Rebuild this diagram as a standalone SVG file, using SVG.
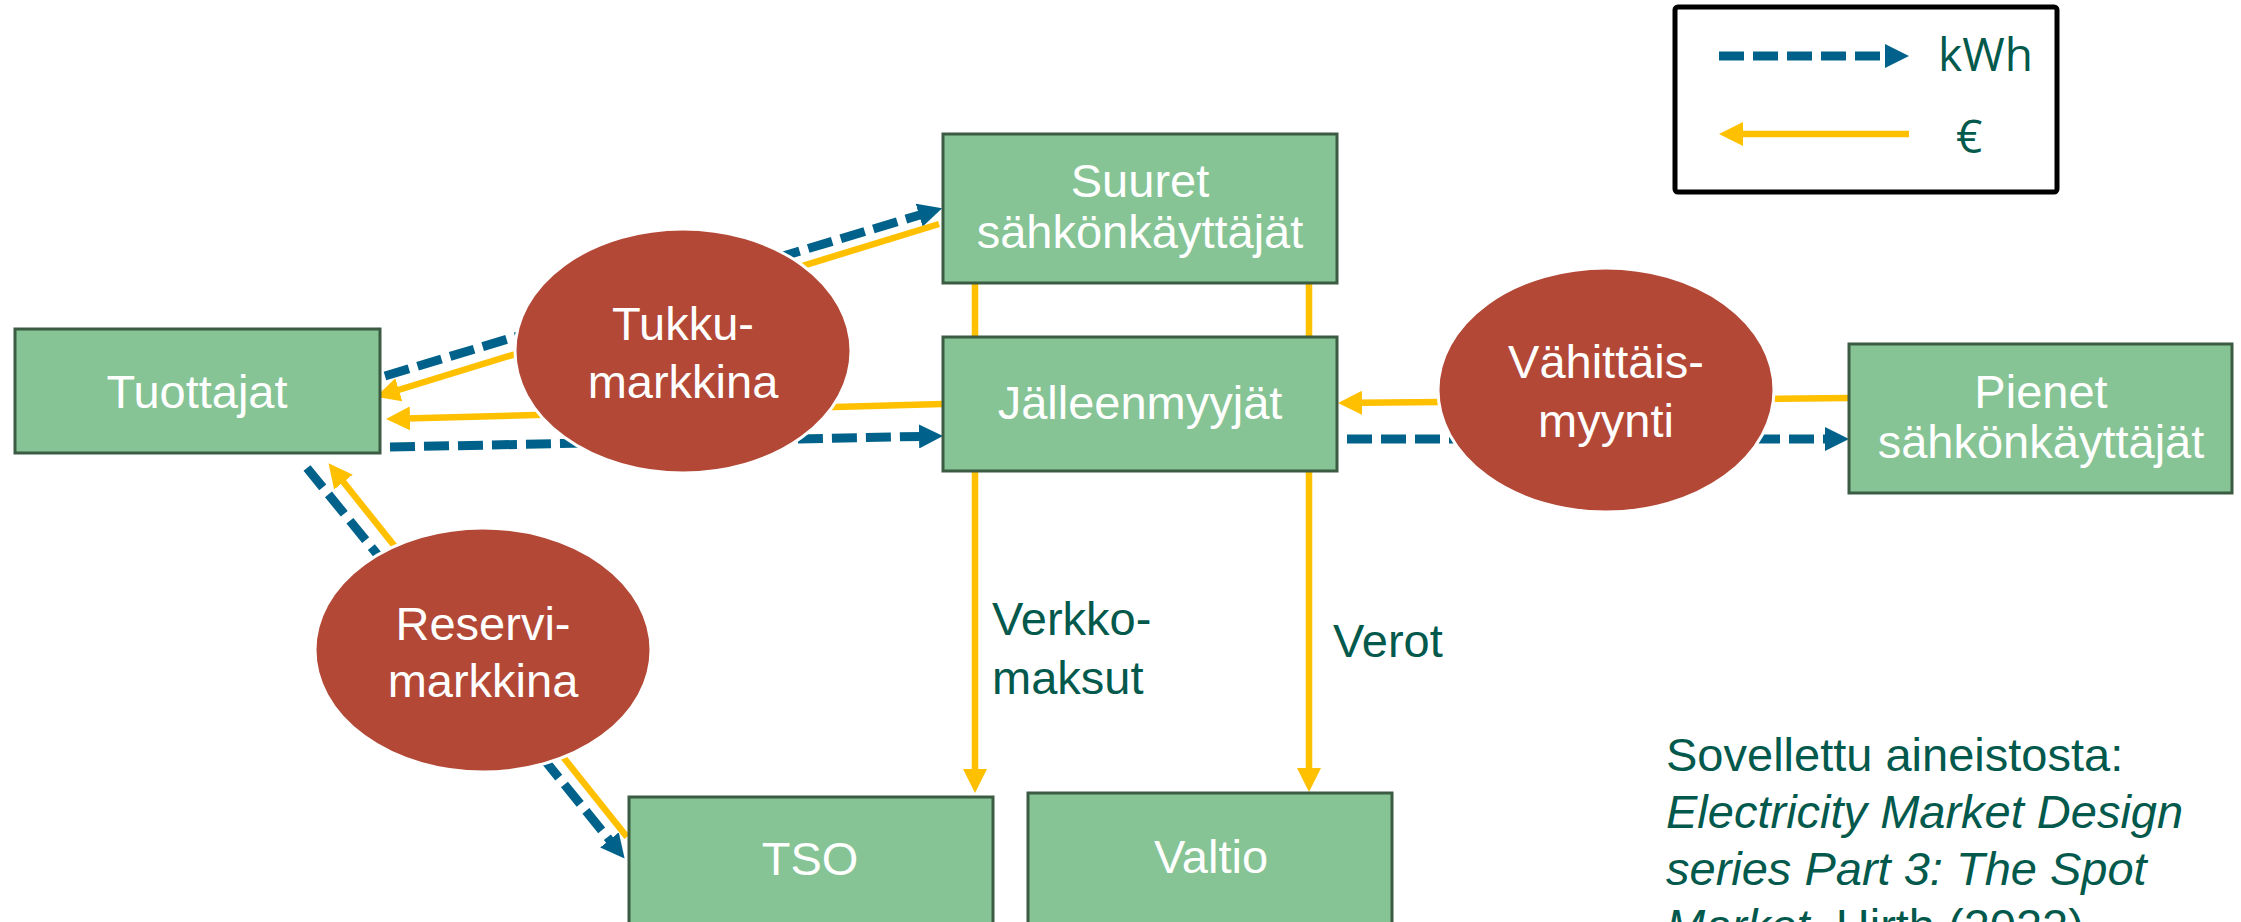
<svg xmlns="http://www.w3.org/2000/svg" width="2241" height="922" viewBox="0 0 2241 922">
  <defs>
    <style>
      .box { fill: #86C496; stroke: #3B5B43; stroke-width: 3; }
      .market { fill: #B34836; stroke: #FFFFFF; stroke-width: 3; }
      .lbl { font-family: "Liberation Sans", Arial, sans-serif; font-size: 47px; fill: #FFFFFF; text-anchor: middle; }
      .note { font-family: "Liberation Sans", Arial, sans-serif; font-size: 47px; fill: #02594C; }
      .legend-txt { font-family: "Open Sans", "Liberation Sans", sans-serif; font-size: 46px; fill: #02594C; }
      .kwh { fill: none; stroke: #00628A; stroke-width: 9; stroke-dasharray: 25 9; marker-end: url(#headBlue); }
      .eur { fill: none; stroke: #FFC000; stroke-width: 6.5; marker-end: url(#headYellow); }
    </style>
    <marker id="headBlue" markerUnits="userSpaceOnUse" markerWidth="24" markerHeight="24" viewBox="0 0 24 24" refX="4" refY="12" orient="auto">
      <path d="M0,0 L24,12 L0,24 Z" fill="#00628A"/>
    </marker>
    <marker id="headYellow" markerUnits="userSpaceOnUse" markerWidth="24" markerHeight="24" viewBox="0 0 24 24" refX="4" refY="12" orient="auto">
      <path d="M0,0 L24,12 L0,24 Z" fill="#FFC000"/>
    </marker>
  </defs>

  <rect width="2241" height="922" fill="#FFFFFF"/>

  <!-- energy (kWh) and money (€) flows -->
  <g id="connectors">
    <!-- wholesale market -->
    <line class="kwh" x1="385" y1="376" x2="923" y2="214"/>
    <line class="eur" x1="939" y1="224" x2="395" y2="391"/>
    <line class="eur" x1="943" y1="404" x2="406" y2="418.5"/>
    <line class="kwh" x1="390" y1="447" x2="923" y2="436.4"/>
    <!-- retail -->
    <line class="kwh" x1="1347" y1="439" x2="1829" y2="439"/>
    <line class="eur" x1="1849" y1="398" x2="1358" y2="402.8"/>
    <!-- reserve market -->
    <line class="kwh" x1="307" y1="468" x2="612" y2="843"/>
    <line class="eur" x1="627" y1="837" x2="341" y2="479"/>
    <!-- network fees and taxes -->
    <line class="eur" x1="975" y1="283" x2="975" y2="773"/>
    <line class="eur" x1="1309" y1="283" x2="1309" y2="772"/>
  </g>

  <g id="tuottajat">
    <rect class="box" x="15" y="329" width="365" height="124"/>
    <text class="lbl" x="197" y="408">Tuottajat</text>
  </g>

  <g id="suuret">
    <rect class="box" x="943" y="134" width="394" height="149"/>
    <text class="lbl" x="1140" y="197">Suuret</text>
    <text class="lbl" x="1140" y="248">sähkönkäyttäjät</text>
  </g>

  <g id="jalleenmyyjat">
    <rect class="box" x="943" y="337" width="394" height="134"/>
    <text class="lbl" x="1140" y="419">Jälleenmyyjät</text>
  </g>

  <g id="pienet">
    <rect class="box" x="1849" y="344" width="383" height="149"/>
    <text class="lbl" x="2041" y="408">Pienet</text>
    <text class="lbl" x="2041" y="458">sähkönkäyttäjät</text>
  </g>

  <g id="tso">
    <rect class="box" x="629" y="797" width="364" height="140"/>
    <text class="lbl" x="810" y="875">TSO</text>
  </g>

  <g id="valtio">
    <rect class="box" x="1028" y="793" width="364" height="144"/>
    <text class="lbl" x="1211" y="873">Valtio</text>
  </g>

  <g id="tukkumarkkina">
    <ellipse class="market" cx="683" cy="351" rx="168" ry="122"/>
    <text class="lbl" x="683" y="340">Tukku-</text>
    <text class="lbl" x="683" y="398">markkina</text>
  </g>

  <g id="vahittaismyynti">
    <ellipse class="market" cx="1606" cy="390" rx="168" ry="122"/>
    <text class="lbl" x="1606" y="378">Vähittäis-</text>
    <text class="lbl" x="1606" y="437">myynti</text>
  </g>

  <g id="reservimarkkina">
    <ellipse class="market" cx="483" cy="650" rx="168" ry="122"/>
    <text class="lbl" x="483" y="640">Reservi-</text>
    <text class="lbl" x="483" y="697">markkina</text>
  </g>

  <!-- flow labels -->
  <g id="flow-labels">
    <text class="note" x="992" y="635">Verkko-</text>
    <text class="note" x="992" y="694">maksut</text>
    <text class="note" x="1333" y="657">Verot</text>
  </g>

  <!-- legend -->
  <g id="legend">
    <rect x="1675" y="7" width="382" height="185" rx="3" fill="#FFFFFF" stroke="#000000" stroke-width="5"/>
    <line class="kwh" x1="1719" y1="56" x2="1889" y2="56" stroke-width="8" stroke-dasharray="23 9"/>
    <line class="eur" x1="1909" y1="134" x2="1739" y2="134" stroke-width="8"/>
    <text class="legend-txt" x="1938" y="71">kWh</text>
    <text class="legend-txt" x="1956" y="153">€</text>
  </g>

  <!-- source -->
  <g id="source">
    <text class="note" x="1666" y="771">Sovellettu aineistosta:</text>
    <text class="note" x="1666" y="828" font-style="italic">Electricity Market Design</text>
    <text class="note" x="1666" y="885" font-style="italic">series Part 3: The Spot</text>
    <text class="note" x="1666" y="942"><tspan font-style="italic">Market</tspan>, Hirth (2022)</text>
  </g>
</svg>
